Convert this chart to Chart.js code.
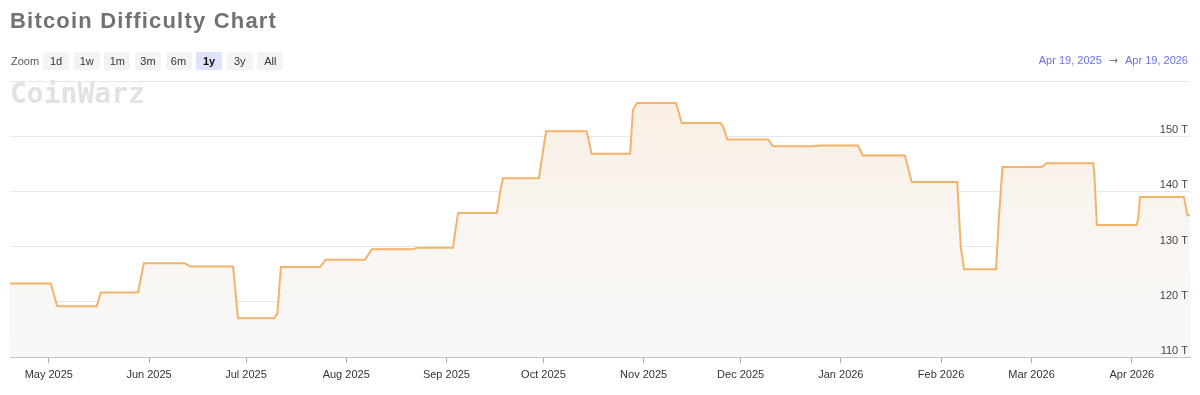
<!DOCTYPE html>
<html>
<head>
<meta charset="utf-8">
<script src="https://cdn.jsdelivr.net/npm/chart.js@4.4.1/dist/chart.umd.min.js"></script>
<style>
  html, body { margin: 0; padding: 0; background: #ffffff; }
  #wrap { position: relative; width: 1200px; height: 395px; overflow: hidden; font-family: "Liberation Sans", Arial, sans-serif; }
  #chart { position: absolute; left: 0; top: 0; }
  .title { position: absolute; left: 10px; top: 10px; line-height: 22px; font-size: 22px; font-weight: bold; color: #727272; letter-spacing: 1.2px; white-space: nowrap; }
  .zoomrow { position: absolute; left: 11px; top: 52px; height: 18px; display: flex; align-items: center; font-size: 11px; color: #555; }
  .zoomrow .lbl { margin-right: 4px; line-height: 18px; }
  .zoomrow .btn { width: 26px; height: 18px; line-height: 18px; text-align: center; background: #f3f3f3; color: #333; border-radius: 2px; margin-right: 4.6px; }
  .zoomrow .btn.sel { background: #dfe3fb; color: #111; font-weight: bold; }
  .range { position: absolute; right: 12px; top: 53px; line-height: 14px; font-size: 11px; color: #6a70ee; white-space: nowrap; }
  .range .arrow { font-family: "DejaVu Sans", sans-serif; font-size: 11px; color: #777; margin: 0 7px; }
  .logo { position: absolute; left: 10px; top: 80px; font-family: "DejaVu Sans Mono", monospace; font-weight: bold; font-size: 28px; line-height: 28px; color: #e2e2e2; z-index: 2; }
</style>
</head>
<body>
<div id="wrap">
  <canvas id="chart" width="1200" height="395"></canvas>
  <div class="title">Bitcoin Difficulty Chart</div>
  <div class="zoomrow">
    <span class="lbl">Zoom</span>
    <span class="btn">1d</span><span class="btn">1w</span><span class="btn">1m</span><span class="btn">3m</span><span class="btn">6m</span><span class="btn sel">1y</span><span class="btn">3y</span><span class="btn">All</span>
  </div>
  <div class="range">Apr 19, 2025<span class="arrow">→</span>Apr 19, 2026</div>
  <div class="logo">CoinWarz</div>
</div>
<script>
// Days since Apr 19, 2025 (start of the 1y window) for each corner of the line
const dayOffsets = [
  0, 12.6, 14.6, 26.8, 28.1, 39.6, 41.4, 54.1, 55.7, 69.0,
  70.5, 81.7, 82.7, 83.8, 95.9, 97.6, 109.8, 111.9, 124.2, 126.2,
  137.0, 138.6, 150.6, 151.8, 152.5, 163.6, 165.8, 178.4, 179.9, 191.8,
  192.7, 193.9, 206.0, 207.8, 219.8, 220.6, 221.9, 234.5, 236.0, 248.4,
  250.5, 262.3, 263.8, 276.8, 278.9, 293.0, 294.1, 295.1, 305.0, 305.9,
  307.0, 319.1, 320.7, 335.1, 335.4, 336.2, 348.5, 349.0, 349.5, 363.1,
  364.2, 365
];
// Difficulty in T (trillions)
const difficultyT = [
  123.3, 123.3, 119.2, 119.2, 121.7, 121.7, 127.0, 127.0, 126.4, 126.4,
  117.0, 117.0, 117.9, 126.3, 126.3, 127.6, 127.6, 129.5, 129.5, 129.8,
  129.8, 136.1, 136.1, 140.5, 142.4, 142.4, 150.9, 150.9, 146.8, 146.8,
  154.8, 156.0, 156.0, 152.4, 152.4, 151.7, 149.4, 149.4, 148.2, 148.2,
  148.3, 148.3, 146.5, 146.5, 141.7, 141.7, 129.9, 125.9, 125.9, 135.4,
  144.4, 144.4, 145.1, 145.1, 143.2, 133.9, 133.9, 135.1, 139.0, 139.0,
  135.7, 135.7
];
// Month tick positions (days since Apr 19, 2025) and their labels
const monthTickDays = [12, 43, 73, 104, 135, 165, 196, 226, 257, 288, 316, 347];
const monthTickLabels = ['May 2025', 'Jun 2025', 'Jul 2025', 'Aug 2025', 'Sep 2025', 'Oct 2025',
  'Nov 2025', 'Dec 2025', 'Jan 2026', 'Feb 2026', 'Mar 2026', 'Apr 2026'];
const yTickValues = [110, 120, 130, 140, 150, 160];
const yTickLabels = ['110 T', '120 T', '130 T', '140 T', '150 T', ''];

const points = dayOffsets.map((d, i) => ({ x: d, y: difficultyT[i] }));

const yLabel = (v) => { const i = yTickValues.indexOf(v); return i >= 0 ? yTickLabels[i] : ''; };

new Chart(document.getElementById('chart'), {
  type: 'line',
  data: {
    datasets: [{
      data: points,
      borderColor: '#f3b36a',
      borderWidth: 2,
      pointRadius: 0,
      tension: 0,
      fill: 'start',
      backgroundColor: (ctx) => {
        const { chart } = ctx;
        const area = chart.chartArea;
        if (!area) return 'rgba(248,238,228,1)';
        const g = chart.ctx.createLinearGradient(0, area.top, 0, area.bottom);
        g.addColorStop(0, '#f8ede2');
        g.addColorStop(0.5, '#faf5f0');
        g.addColorStop(1, '#f8f8f8');
        return g;
      }
    }]
  },
  options: {
    responsive: false,
    animation: false,
    layout: { padding: { top: 81, left: 10, right: 10, bottom: 0 } },
    plugins: { legend: { display: false }, tooltip: { enabled: false } },
    scales: {
      x: {
        type: 'linear',
        min: 0,
        max: 365,
        afterBuildTicks: (s) => { s.ticks = monthTickDays.map(v => ({ value: v })); },
        afterFit: (s) => { s.height = 38; },
        grid: { drawOnChartArea: false, drawTicks: true, tickLength: 6, color: '#a8a8a8' },
        border: { display: true, color: '#c4c4c4', width: 1 },
        ticks: {
          autoSkip: false, maxRotation: 0, padding: 5, color: '#333333',
          font: { family: 'Liberation Sans', size: 11 },
          callback: (v) => { const i = monthTickDays.indexOf(v); return i >= 0 ? monthTickLabels[i] : ''; }
        }
      },
      y: {
        position: 'right',
        min: 110,
        max: 160,
        afterBuildTicks: (s) => { s.ticks = yTickValues.map(v => ({ value: v })); },
        afterFit: (s) => { s.width = 0; },
        grid: { drawTicks: false, color: '#e8e8e8', lineWidth: 1 },
        border: { display: false },
        ticks: {
          z: 1, mirror: true, padding: -2, labelOffset: -6, color: '#444444',
          font: { family: 'Liberation Sans', size: 11 },
          callback: yLabel
        }
      }
    }
  }
});
</script>
</body>
</html>
